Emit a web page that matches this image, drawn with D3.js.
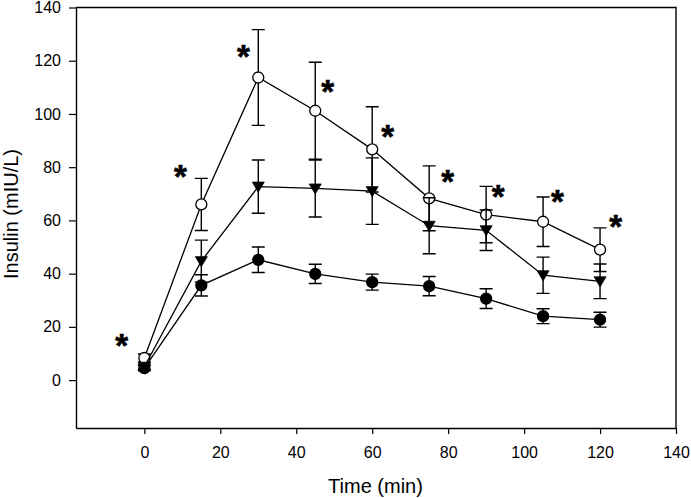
<!DOCTYPE html>
<html>
<head>
<meta charset="utf-8">
<script src="https://cdn.jsdelivr.net/npm/d3@7"></script>
<style>
  html, body { margin: 0; padding: 0; background: #fff; }
  svg { display: block; }
  text { font-family: Arial, "Liberation Sans", sans-serif; fill: #000; }
</style>
</head>
<body>
<svg id="chart" width="691" height="498"></svg>
<script>
// ---- data ----
const times = [0, 15, 30, 45, 60, 75, 90, 105, 120];

const openMean = [8.3, 66, 113.7, 101.2, 86.7, 68.3, 62.2, 59.5, 49];
const openErr  = [1.5, 9.8, 18, 18.2, 16, 12.2, 10.6, 9.3, 8.2];

const triMean = [5, 44.7, 72.7, 72, 71, 58, 56.3, 39.4, 37.1];
const triErr  = [1, 7.9, 10, 10.7, 12.5, 10.5, 7.6, 6.8, 6.5];

const filledMean = [4.5, 35.6, 45.2, 39.9, 36.8, 35.3, 30.6, 24, 22.7];
const filledErr  = [1, 4, 4.8, 3.6, 3, 3.6, 3.7, 2.8, 2.8];

// significance asterisks (centre positions, data units)
const starX = [-6, 9.5, 26.1, 48.3, 64.1, 79.9, 93.2, 108.8, 124.1];
const starY = [15.8, 79.2, 124.1, 111.2, 94.3, 77.3, 71.7, 69.8, 60.4];

const xTicks = [0, 20, 40, 60, 80, 100, 120, 140];
const yTicks = [0, 20, 40, 60, 80, 100, 120, 140];
const xDomain = [-18, 140];
const yDomain = [-18, 140];
const xTitle = "Time (min)";
const yTitle = "Insulin (mIU/L)";

// ---- layout ----
const svg = d3.select("#chart");
const L = 76, R = 676, T = 7.5, B = 428;
const x = d3.scaleLinear().domain(xDomain).range([L, R]);
const y = d3.scaleLinear().domain(yDomain).range([B, T]);

// frame (top & right)
svg.append("path")
  .attr("d", `M${L},${T}H${R}V${B}`)
  .attr("fill", "none").attr("stroke", "#000").attr("stroke-width", 1.4);

const xAxis = svg.append("g").attr("transform", `translate(0,${B})`)
  .call(d3.axisBottom(x).tickValues(xTicks).tickSize(6).tickSizeOuter(0).tickPadding(12.5));
const yAxis = svg.append("g").attr("transform", `translate(${L},0)`)
  .call(d3.axisLeft(y).tickValues(yTicks).tickSize(7).tickSizeOuter(0).tickPadding(8));
[xAxis, yAxis].forEach(g => {
  g.select(".domain").attr("stroke-width", 1.4);
  g.selectAll(".tick line").attr("stroke-width", 1.2);
  g.selectAll(".tick text").attr("font-size", 16).attr("font-family", 'Arial, "Liberation Sans", sans-serif');
});

svg.append("text").attr("x", 375.5).attr("y", 492.5)
  .attr("text-anchor", "middle").attr("font-size", 20).text(xTitle);
svg.append("text")
  .attr("transform", `translate(17.5,214) rotate(-90)`)
  .attr("text-anchor", "middle").attr("font-size", 20).text(yTitle);

// ---- series ----
const series = [
  { mean: openMean, err: openErr, type: "open" },
  { mean: triMean, err: triErr, type: "tri" },
  { mean: filledMean, err: filledErr, type: "filled" }
];

const line = d3.line().x(d => x(d[0])).y(d => y(d[1]));

series.forEach(s => {
  const pts = times.map((t, i) => [t, s.mean[i], s.err[i]]);
  const g = svg.append("g");
  g.append("path").attr("d", line(pts))
    .attr("fill", "none").attr("stroke", "#000").attr("stroke-width", 1.3);

  const eb = g.selectAll(".eb").data(pts).enter().append("g");
  const cw = 6.5;
  eb.append("path")
    .attr("d", d => {
      const cx = x(d[0]), y1 = y(d[1] + d[2]), y0 = y(d[1] - d[2]);
      return `M${cx},${y1}V${y0}M${cx - cw},${y1}H${cx + cw}M${cx - cw},${y0}H${cx + cw}`;
    })
    .attr("fill", "none").attr("stroke", "#000").attr("stroke-width", 1.4);

  if (s.type === "tri") {
    g.selectAll(".m").data(pts).enter().append("path")
      .attr("d", d => {
        const cx = x(d[0]), cy = y(d[1]);
        return `M${cx - 6},${cy - 4.5}L${cx + 6},${cy - 4.5}L${cx},${cy + 5.5}Z`;
      })
      .attr("fill", "#000").attr("stroke", "#000").attr("stroke-width", 0.8);
  } else {
    g.selectAll(".m").data(pts).enter().append("circle")
      .attr("cx", d => x(d[0])).attr("cy", d => y(d[1])).attr("r", 5.5)
      .attr("fill", s.type === "open" ? "#fff" : "#000")
      .attr("stroke", "#000").attr("stroke-width", 1.3);
  }
});

// asterisks
const fs = 33;
svg.selectAll(".star").data(starX.map((v, i) => [v, starY[i]])).enter().append("text")
  .attr("x", d => x(d[0])).attr("y", d => y(d[1]) + fs * 0.56)
  .attr("text-anchor", "middle").attr("font-weight", "bold").attr("font-size", fs)
  .attr("stroke", "#000").attr("stroke-width", 0.6)
  .text("*");
</script>
</body>
</html>
